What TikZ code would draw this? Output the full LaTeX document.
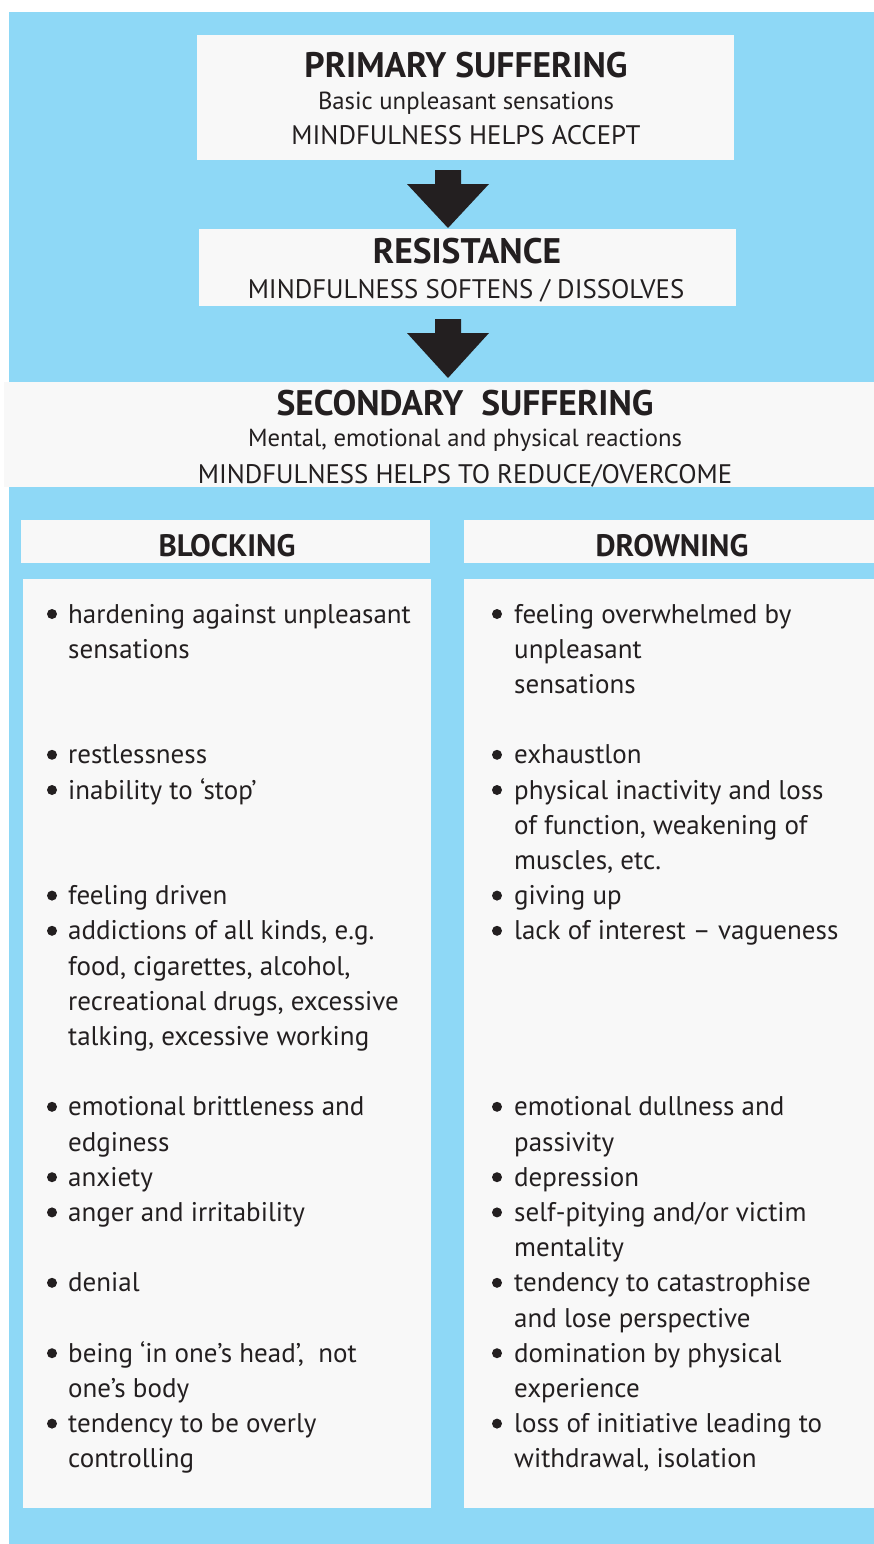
\documentclass[tikz,border=0pt]{standalone}
\usepackage{fontspec}
\usetikzlibrary{calc}
\setmainfont{PT Sans}
\newfontfamily\headfont[BoldFont={PT Sans Bold}]{PT Sans}
\definecolor{skyb}{HTML}{8ED8F6}
\definecolor{boxw}{HTML}{F8F8F8}
\definecolor{ink}{HTML}{231F20}
\tikzset{
  panel/.style={fill=boxw, draw=none},
  head/.style={font=\headfont\bfseries\fontsize{35.5}{40}\selectfont, text=ink, anchor=base, inner sep=0pt},
  colhead/.style={font=\headfont\bfseries\fontsize{31}{36}\selectfont, text=ink, anchor=base, inner sep=0pt},
  sub/.style={font=\fontsize{24.7}{30}\selectfont, text=ink, anchor=base, inner sep=0pt},
  capsub/.style={font=\fontsize{26.8}{30}\selectfont, text=ink, anchor=base, inner sep=0pt},
  item/.style={font=\fontsize{27}{35}\selectfont, text=ink, anchor=base west, inner sep=0pt},
  bul/.style={circle, fill=ink, inner sep=0pt, minimum size=10pt},
  blockarrow/.style={fill=ink}
}
\begin{document}
\begin{tikzpicture}[x=1pt,y=-1pt]
\useasboundingbox (0,0) rectangle (874,1544);
\fill[white] (0,0) rectangle (874,1544);
% blue background
\fill[skyb] (9,12) rectangle (874,1544);
% secondary band
\fill[boxw] (4,382) rectangle (874,487);
% panels
\fill[panel] (197,35) rectangle (734,160);
\fill[panel] (199,229) rectangle (736,306);
\fill[panel] (21,520) rectangle (430,563);
\fill[panel] (464,520) rectangle (874,563);
\fill[panel] (23,579) rectangle (431,1508);
\fill[panel] (464,579) rectangle (874,1508);
% primary
\node[head] (prim) at (466,78) {PRIMARY SUFFERING};
\node[sub] (primsub) at (466,110) {Basic unpleasant sensations};
\node[capsub] (primmind) at (466,144) {MINDFULNESS HELPS ACCEPT};
% resistance
\node[head] (res) at (467,263) {RESISTANCE};
\node[capsub] (resmind) at (466,298) {MINDFULNESS SOFTENS / DISSOLVES};
% secondary
\node[head] (sec) at (465,415) {SECONDARY\ \ SUFFERING};
\node[sub] (secsub) at (465,446) {Mental, emotional and physical reactions};
\node[capsub] (secmind) at (465,483) {MINDFULNESS HELPS TO REDUCE/OVERCOME};
% column heads
\node[colhead] (blk) at (227,556) {BLOCKING};
\node[colhead] (drn) at (672,556) {DROWNING};
% arrows
\coordinate (a1) at (448,170);
\coordinate (a2) at (448,319);
\foreach \a/\h in {a1/58, a2/59}{
  \fill[blockarrow] ($(\a)+(-13,0)$) -- ($(\a)+(13,0)$) -- ($(\a)+(13,14)$) -- ($(\a)+(41,14)$) -- ($(\a)+(0,\h)$) -- ($(\a)+(-41,14)$) -- ($(\a)+(-13,14)$) -- cycle;
}
% left list
\foreach \k/\b/\t [count=\i] in {
  0/1/{hardening against unpleasant},
  1/0/{sensations},
  4/1/{restlessness},
  5/1/{inability to ‘stop’},
  8/1/{feeling driven},
  9/1/{addictions of all kinds, e.g.},
  10/0/{food, cigarettes, alcohol,},
  11/0/{recreational drugs, excessive},
  12/0/{talking, excessive working},
  14/1/{emotional brittleness and},
  15/0/{edginess},
  16/1/{anxiety},
  17/1/{anger and irritability},
  19/1/{denial},
  21/1/{being ‘in one’s head’,\ \ not},
  22/0/{one’s body},
  23/1/{tendency to be overly},
  24/0/{controlling}}{
  \node[item] (L\i) at (68,623+35.2*\k) {\t};
  \ifnum\b=1 \node[bul] (LB\i) at (52,614+35.2*\k) {};\fi
}
% right list
\foreach \k/\b/\t [count=\i] in {
  0/1/{feeling overwhelmed by},
  1/0/{unpleasant},
  2/0/{sensations},
  4/1/{exhaustlon},
  5/1/{physical inactivity and loss},
  6/0/{of function, weakening of},
  7/0/{muscles, etc.},
  8/1/{giving up},
  9/1/{lack of interest – vagueness},
  14/1/{emotional dullness and},
  15/0/{passivity},
  16/1/{depression},
  17/1/{self-pitying and/or victim},
  18/0/{mentality},
  19/1/{tendency to catastrophise},
  20/0/{and lose perspective},
  21/1/{domination by physical},
  22/0/{experience},
  23/1/{loss of initiative leading to},
  24/0/{withdrawal, isolation}}{
  \node[item] (R\i) at (514,623+35.2*\k) {\t};
  \ifnum\b=1 \node[bul] (RB\i) at (497,614+35.2*\k) {};\fi
}
\end{tikzpicture}
\end{document}
